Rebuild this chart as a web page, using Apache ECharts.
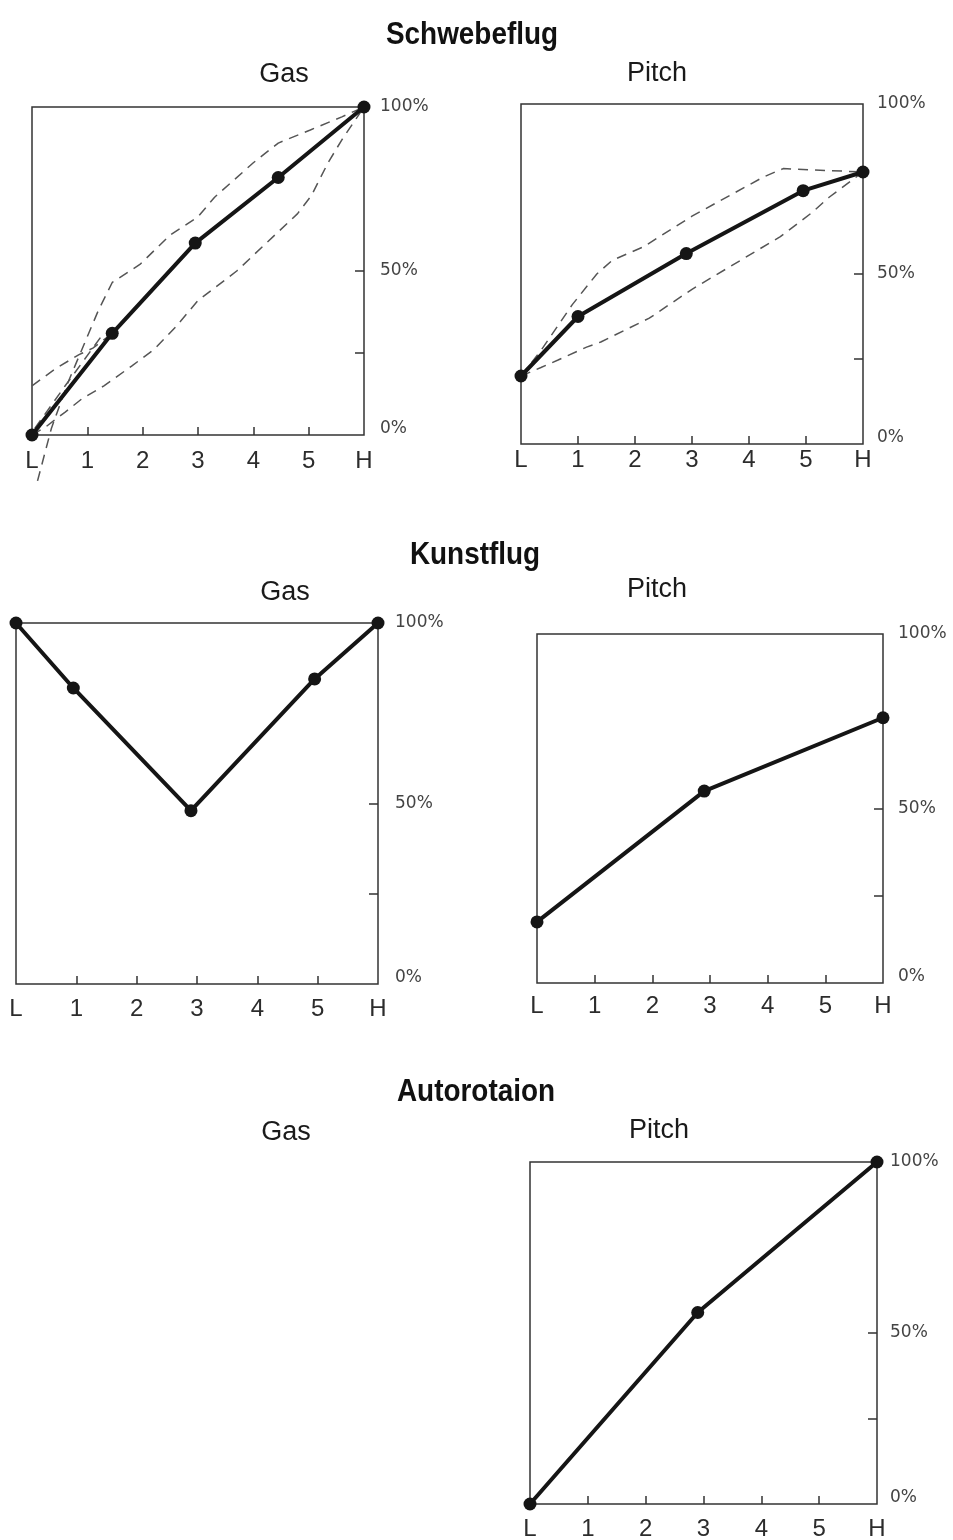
<!DOCTYPE html>
<html>
<head>
<meta charset="utf-8">
<script src="https://cdn.jsdelivr.net/npm/echarts@6/dist/echarts.min.js"></script>
<style>
  html, body { margin: 0; padding: 0; background: #fff; }
  #chart { width: 953px; height: 1540px; }
</style>
</head>
<body>
<div id="chart"></div>
<script>
// Stick positions L, 1..5, H mapped to 0..6
const xLabels = ['L', '1', '2', '3', '4', '5', 'H'];
const xLabelValues = [0, 1, 2, 3, 4, 5, 6];
const xTickValues = [1, 2, 3, 4, 5];
const yLabelValues = [0, 50, 100];
const yTickValues = [25, 50];

// Schwebeflug – Gas
const hoverGas = [[0, 0], [1.45, 31], [2.95, 58.5], [4.45, 78.5], [6, 100]];
const hoverGasUpper = [[0.1, -14], [0.35, 2], [0.65, 16], [1.0, 30], [1.2, 38], [1.45, 46.5], [1.95, 52], [2.5, 61], [3.0, 66.5], [3.3, 72.5], [4.0, 83], [4.45, 89], [5.03, 93], [5.6, 97], [6, 100]];
const hoverGasLower = [[0, 0], [0.25, 2.5], [0.6, 7], [0.9, 11], [1.3, 15], [1.8, 21], [2.2, 26], [2.6, 33], [3.0, 41], [3.7, 50], [4.8, 67.5], [5.05, 73], [5.35, 83], [5.6, 90], [6, 100]];
const hoverGasRaised = [[0, 15], [0.45, 20.5], [0.85, 24.5], [1.1, 26.5], [1.45, 31]];
const hoverGasSteep = [[0.05, 2], [0.6, 15], [1.25, 30]];

// Schwebeflug – Pitch
const hoverPitch = [[0, 20], [1, 37.5], [2.9, 56], [4.95, 74.5], [6, 80]];
const hoverPitchUpper = [[0, 20], [0.35, 27.5], [0.9, 41], [1.33, 50], [1.6, 54], [2.15, 58], [3.0, 67], [4.25, 78.5], [4.6, 81], [6, 80]];
const hoverPitchLower = [[0, 20], [0.35, 22.5], [0.65, 24.7], [1.15, 28.5], [1.4, 30], [2.25, 37], [3.0, 45.5], [4.55, 61], [5.1, 68], [5.4, 72.5], [6, 80]];

// Kunstflug
const aeroGas = [[0, 100], [0.95, 82], [2.9, 48], [4.95, 84.5], [6, 100]];
const aeroPitch = [[0, 17.5], [2.9, 55], [6, 76]];

// Autorotaion
const autoPitch = [[0, 0], [2.9, 56], [6, 100]];

const sectionTitles = ['Schwebeflug', 'Kunstflug', 'Autorotaion'];
const panelTitles = ['Gas', 'Pitch'];

// plot frames and label spacing
const panels = [
  { left: 32,  top: 107,  width: 332, height: 328, xm: 14, ym: 16 },
  { left: 521, top: 104,  width: 342, height: 340, xm: 4,  ym: 14 },
  { left: 16,  top: 623,  width: 362, height: 361, xm: 13, ym: 17 },
  { left: 537, top: 634,  width: 346, height: 349, xm: 11, ym: 15 },
  { left: 530, top: 1162, width: 347, height: 342, xm: 13, ym: 13 }
];

const INK = '#151515';
const FRAME = '#333';

const grids = panels.map(p => ({
  show: true, borderColor: FRAME, borderWidth: 1.5, backgroundColor: 'transparent',
  left: p.left, top: p.top, width: p.width, height: p.height,
  containLabel: false, outerBoundsMode: 'none'
}));

const xAxes = panels.map((p, i) => ({
  type: 'value', gridIndex: i, position: 'bottom', min: 0, max: 6,
  axisLine: { show: false, onZero: false },
  splitLine: { show: false },
  axisTick: { show: true, inside: true, length: 8, customValues: xTickValues, lineStyle: { color: FRAME, width: 1.5 } },
  axisLabel: {
    customValues: xLabelValues, margin: p.xm,
    formatter: v => xLabels[Math.round(v)],
    fontFamily: 'Liberation Sans', fontSize: 24, color: '#2c2c2c'
  }
}));

const yAxes = panels.map((p, i) => ({
  type: 'value', gridIndex: i, position: 'right', min: 0, max: 100,
  axisLine: { show: false, onZero: false },
  splitLine: { show: false },
  axisTick: { show: true, inside: true, length: 9, customValues: yTickValues, lineStyle: { color: FRAME, width: 1.5 } },
  axisLabel: {
    customValues: yLabelValues, margin: p.ym,
    formatter: v => v === 0 ? '{lo|0%}' : v + '%',
    fontFamily: 'DejaVu Sans', fontSize: 17, color: '#444',
    rich: { lo: { fontFamily: 'DejaVu Sans', fontSize: 17, color: '#444', padding: [0, 0, 13, 0] } }
  }
}));

function mainLine(i, data) {
  return {
    type: 'line', xAxisIndex: i, yAxisIndex: i, data, z: 4,
    symbol: 'circle', symbolSize: 13, clip: false,
    lineStyle: { color: INK, width: 4 }, itemStyle: { color: INK }
  };
}
function dashLine(i, data) {
  return {
    type: 'line', xAxisIndex: i, yAxisIndex: i, data, z: 2,
    symbol: 'none', showSymbol: false, clip: false,
    lineStyle: { color: '#555', width: 1.5, type: [10, 7] }
  };
}

const series = [
  dashLine(0, hoverGasUpper), dashLine(0, hoverGasLower), dashLine(0, hoverGasRaised), dashLine(0, hoverGasSteep),
  mainLine(0, hoverGas),
  dashLine(1, hoverPitchUpper), dashLine(1, hoverPitchLower),
  mainLine(1, hoverPitch),
  mainLine(2, aeroGas),
  mainLine(3, aeroPitch),
  mainLine(4, autoPitch)
];

function heading(text, x, y) {
  return {
    type: 'text', x, y, scaleX: 0.9, silent: true,
    style: { text, font: 'bold 31px "Liberation Sans", Arial, sans-serif', fill: '#111',
             align: 'center', textAlign: 'center', verticalAlign: 'middle', textVerticalAlign: 'middle' }
  };
}
function subHeading(text, x, y) {
  return {
    type: 'text', x, y, silent: true,
    style: { text, font: '27px "Liberation Sans", Arial, sans-serif', fill: '#1a1a1a',
             align: 'center', textAlign: 'center', verticalAlign: 'middle', textVerticalAlign: 'middle' }
  };
}

const graphic = [
  heading(sectionTitles[0], 472, 35),
  subHeading(panelTitles[0], 284, 75),
  subHeading(panelTitles[1], 657, 74),
  heading(sectionTitles[1], 475, 555),
  subHeading(panelTitles[0], 285, 593),
  subHeading(panelTitles[1], 657, 590),
  heading(sectionTitles[2], 476, 1092),
  subHeading(panelTitles[0], 286, 1133),
  subHeading(panelTitles[1], 659, 1131)
];

const chart = echarts.init(document.getElementById('chart'), null, { renderer: 'canvas' });
chart.setOption({
  animation: false,
  backgroundColor: '#ffffff',
  grid: grids,
  xAxis: xAxes,
  yAxis: yAxes,
  series,
  graphic
});
</script>
</body>
</html>
